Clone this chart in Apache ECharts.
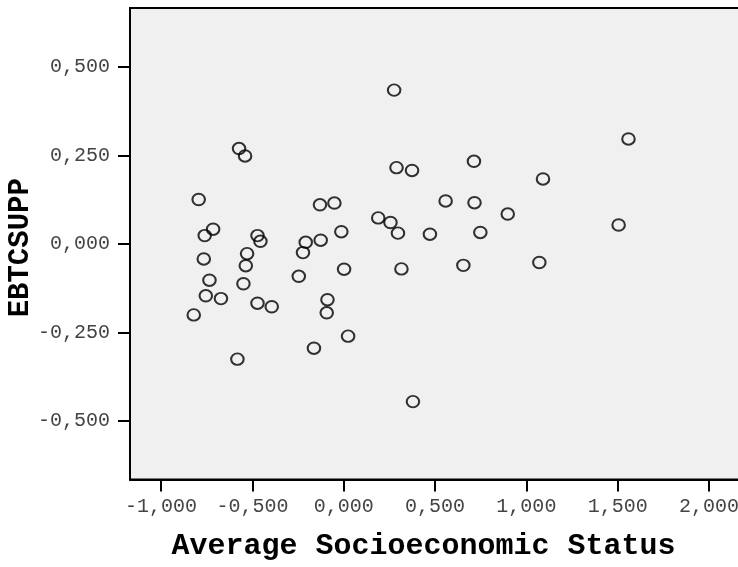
<!DOCTYPE html>
<html>
<head>
<meta charset="utf-8">
<script src="https://cdn.jsdelivr.net/npm/echarts@6/dist/echarts.min.js"></script>
<style>
  html, body { margin: 0; padding: 0; background: #ffffff; }
  #chart { width: 738px; height: 567px; }
</style>
</head>
<body>
<div id="chart"></div>
<script>
// Average socioeconomic status (x) against EBTCSUPP (y), one point per case
const sesValues = [
  -0.821, -0.794, -0.715, -0.761, -0.766, -0.735, -0.755, -0.672, -0.582, -0.573,
  -0.540, -0.472, -0.456, -0.529, -0.536, -0.549, -0.472, -0.394, -0.130, -0.051,
   0.189, -0.013, -0.126, -0.208, -0.223, -0.246,  0.002, -0.089, -0.093, -0.163,
   0.024,  0.276,  0.289,  0.374,  0.713,  1.091,  0.558,  0.716,  0.898,  0.256,
   0.297,  0.472,  0.748,  0.316,  0.655,  1.071,  0.379,  1.559,  1.505
];
const ebtcsuppValues = [
  -0.200,  0.126,  0.042,  0.024, -0.042, -0.102, -0.146, -0.154, -0.325,  0.270,
   0.249,  0.024,  0.008, -0.027, -0.061, -0.112, -0.167, -0.177,  0.111,  0.116,
   0.074,  0.035,  0.011,  0.005, -0.024, -0.091, -0.071, -0.157, -0.194, -0.294,
  -0.260,  0.435,  0.216,  0.208,  0.234,  0.184,  0.122,  0.117,  0.085,  0.061,
   0.031,  0.028,  0.033, -0.070, -0.060, -0.052, -0.445,  0.297,  0.054
];
const xTickValues = [-1, -0.5, 0, 0.5, 1, 1.5, 2];
const yTickValues = [-0.5, -0.25, 0, 0.25, 0.5];

const points = sesValues.map((x, i) => [x, ebtcsuppValues[i]]);
const mono = "'Liberation Mono', 'Courier New', monospace";
const fmt = v => v.toFixed(3).replace('.', ',');

const chart = echarts.init(document.getElementById('chart'), null, { renderer: 'canvas' });
chart.setOption({
  animation: false,
  backgroundColor: '#ffffff',
  grid: {
    left: 130, top: 8, width: 611, height: 471.5,
    show: true,
    backgroundColor: '#f0f0f0',
    borderColor: '#000000',
    borderWidth: 2,
    containLabel: false,
    outerBoundsMode: 'none'
  },
  xAxis: {
    type: 'value',
    min: -1.17, max: 2.175,
    name: 'Average Socioeconomic Status',
    nameLocation: 'middle',
    nameGap: 52,
    nameMoveOverlap: false,
    nameTextStyle: {
      fontFamily: mono, fontSize: 30, fontWeight: 'bold', color: '#000000',
      padding: [0, 24, 0, 0]
    },
    splitLine: { show: false },
    axisLine: { show: true, onZero: false, lineStyle: { color: '#000000', width: 2 } },
    axisTick: {
      show: true, inside: false, length: 12,
      customValues: xTickValues,
      lineStyle: { color: '#000000', width: 2 }
    },
    axisLabel: {
      customValues: xTickValues,
      margin: 17,
      fontFamily: mono, fontSize: 20, color: '#444444',
      formatter: fmt
    }
  },
  yAxis: {
    type: 'value',
    min: -0.665, max: 0.667,
    name: 'EBTCSUPP',
    nameLocation: 'middle',
    nameGap: 95,
    nameMoveOverlap: false,
    nameTextStyle: {
      fontFamily: mono, fontSize: 29, fontWeight: 'bold', color: '#000000',
      padding: [0, 8, 0, 0]
    },
    splitLine: { show: false },
    axisLine: { show: true, onZero: false, lineStyle: { color: '#000000', width: 2 } },
    axisTick: {
      show: true, inside: false, length: 12,
      customValues: yTickValues,
      lineStyle: { color: '#000000', width: 2 }
    },
    axisLabel: {
      customValues: yTickValues,
      margin: 20,
      fontFamily: mono, fontSize: 20, color: '#444444',
      formatter: fmt
    }
  },
  series: [{
    type: 'scatter',
    data: points,
    symbol: 'circle',
    symbolSize: [12.5, 11.5],
    itemStyle: {
      color: 'rgba(0,0,0,0)',
      borderColor: '#000000',
      borderWidth: 2
    },
    emphasis: { disabled: true }
  }]
});
</script>
</body>
</html>
